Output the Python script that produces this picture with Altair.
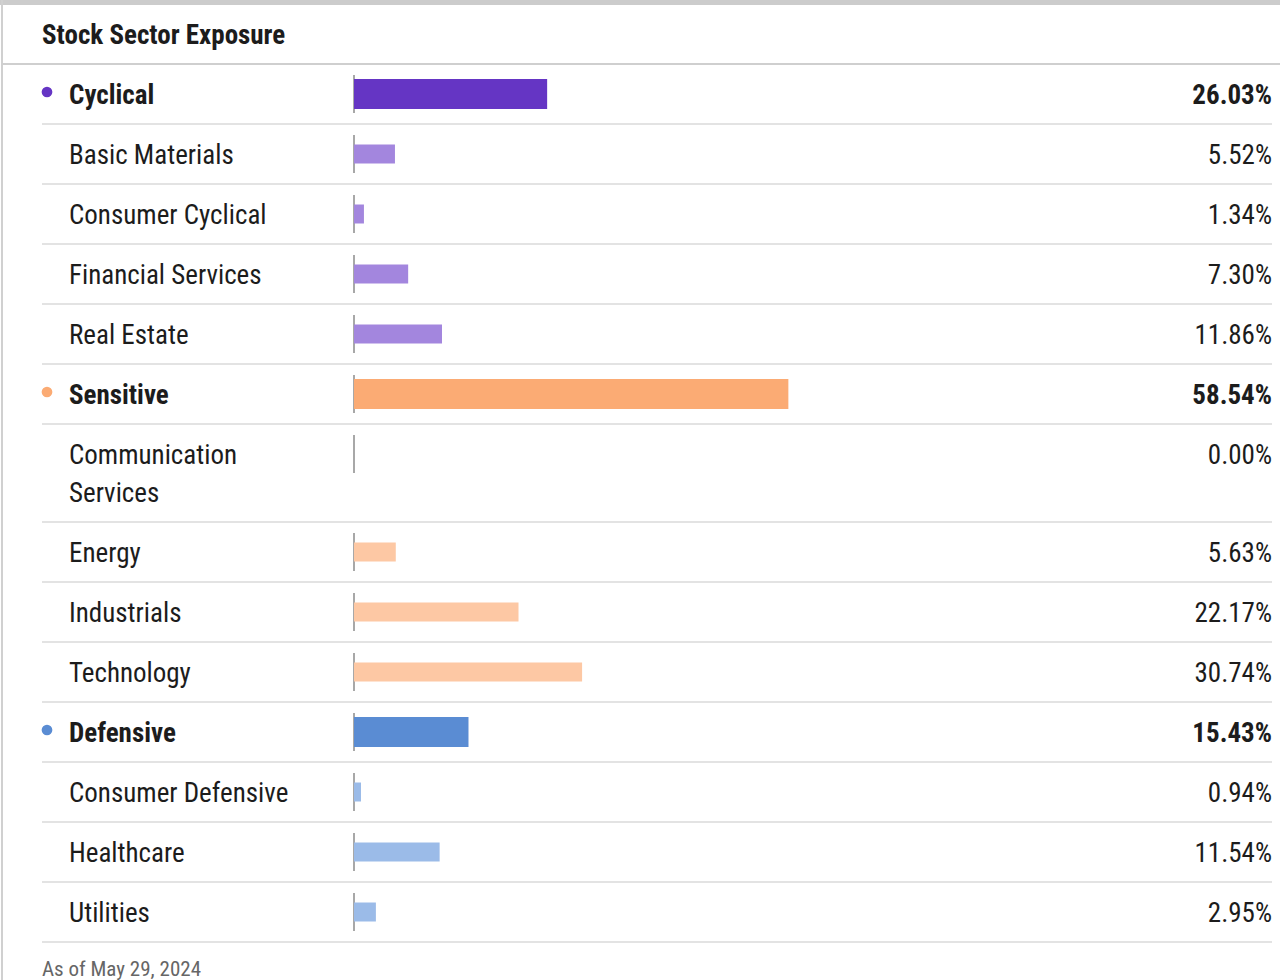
import altair as alt
import pandas as pd

# ---- data ----
sectors = ["Cyclical", "Basic Materials", "Consumer Cyclical", "Financial Services", "Real Estate",
           "Sensitive", "Communication Services", "Energy", "Industrials", "Technology",
           "Defensive", "Consumer Defensive", "Healthcare", "Utilities"]
exposure = [26.03, 5.52, 1.34, 7.30, 11.86,
            58.54, 0.00, 5.63, 22.17, 30.74,
            15.43, 0.94, 11.54, 2.95]
groups = ["Cyclical"] * 5 + ["Sensitive"] * 5 + ["Defensive"] * 4
title_text = "Stock Sector Exposure"
footer_text = "As of May 29, 2024"

color_keys = ["Cyclical-main", "Cyclical-sub", "Sensitive-main", "Sensitive-sub",
              "Defensive-main", "Defensive-sub"]
color_vals = ["#6535c4", "#a386de", "#fbab74", "#fdc8a4", "#5a8cd3", "#9bbbe8"]

# ---- layout ----
W, H = 1280, 980
HEADER_BOTTOM = 64
ROW_H = 60
LINE_EXTRA = 38
WRAP_AT = 20
FONT = "Roboto Condensed, Roboto"
FS = 27
TXT = "#1c1c1c"
DY = 10


def wrap(name):
    if len(name) > WRAP_AT:
        return name.split(" ")
    return name


rows = []
top = HEADER_BOTTOM
for name, val, grp in zip(sectors, exposure, groups):
    lab = wrap(name)
    nlines = len(lab) if isinstance(lab, list) else 1
    h = ROW_H + LINE_EXTRA * (nlines - 1)
    main = name == grp
    rows.append({
        "name": name, "label": lab, "value": val, "group": grp,
        "main": main, "ckey": grp + ("-main" if main else "-sub"),
        "vtxt": f"{val:.2f}%",
        "cy": top + ROW_H / 2, "ztop": top + ROW_H / 2 - 19, "zbot": top + ROW_H / 2 + 19,
        "bottom": top + h,
    })
    top += h
df = pd.DataFrame(rows)
main_df = df[df["main"]]
sub_df = df[~df["main"]]
one = pd.DataFrame({"k": [0]})

yscale = alt.Scale(domain=[0, H], reverse=True, nice=False, zero=False, padding=0)
xscale = alt.Scale(domain=[0, 100], range=[354, 1096], nice=False, padding=0)
cscale = alt.Scale(domain=color_keys, range=color_vals)

top_bar = alt.Chart(one).mark_rect(color="#cccccc").encode(
    x=alt.value(0), x2=alt.value(W), y=alt.value(0), y2=alt.value(5))
left_border = alt.Chart(one).mark_rule(color="#d0d0d0", strokeWidth=2).encode(
    x=alt.value(2), y=alt.value(0), y2=alt.value(H))
header_line = alt.Chart(one).mark_rule(color="#cfcfcf", strokeWidth=2).encode(
    x=alt.value(2), x2=alt.value(W), y=alt.value(HEADER_BOTTOM))
title = alt.Chart(one).mark_text(text=title_text, font=FONT, fontSize=FS, fontWeight="bold",
                                 align="left", baseline="alphabetic", color=TXT).encode(
    x=alt.value(42), y=alt.value(44))
footer = alt.Chart(one).mark_text(text=footer_text, font=FONT, fontSize=21,
                                  align="left", baseline="alphabetic", color="#666666").encode(
    x=alt.value(42), y=alt.value(976))

seps = alt.Chart(df).mark_rule(color="#e3e3e3", strokeWidth=2).encode(
    x=alt.value(42), x2=alt.value(1272),
    y=alt.Y("bottom:Q", scale=yscale, axis=None))

zero_lines = alt.Chart(df).mark_rule(color="#a8a8a8", strokeWidth=2).encode(
    x=alt.X("z:Q", scale=xscale, axis=None),
    y=alt.Y("ztop:Q", scale=yscale, axis=None), y2="zbot:Q"
).transform_calculate(z="0")

bars_main = alt.Chart(main_df).mark_bar(orient="horizontal", size=30).encode(
    x=alt.X("value:Q", scale=xscale, axis=None),
    x2=alt.X2("base:Q"),
    y=alt.Y("cy:Q", scale=yscale, axis=None),
    color=alt.Color("ckey:N", scale=cscale, legend=None)
).transform_calculate(base="0")
bars_sub = alt.Chart(sub_df).mark_bar(orient="horizontal", size=19).encode(
    x=alt.X("value:Q", scale=xscale, axis=None),
    x2=alt.X2("base:Q"),
    y=alt.Y("cy:Q", scale=yscale, axis=None),
    color=alt.Color("ckey:N", scale=cscale, legend=None)
).transform_calculate(base="0")

dots = alt.Chart(main_df).mark_circle(size=115, opacity=1).encode(
    x=alt.value(47),
    y=alt.Y("cy:Q", scale=yscale, axis=None),
    yOffset=alt.value(-2),
    color=alt.Color("ckey:N", scale=cscale, legend=None))

lab_main = alt.Chart(main_df).mark_text(font=FONT, fontSize=FS, fontWeight="bold", align="left",
                                        baseline="alphabetic", dy=DY, color=TXT, lineHeight=38).encode(
    x=alt.value(69), y=alt.Y("cy:Q", scale=yscale, axis=None), text="label")
lab_sub = alt.Chart(sub_df).mark_text(font=FONT, fontSize=FS, align="left",
                                      baseline="alphabetic", dy=DY, color=TXT, lineHeight=38).encode(
    x=alt.value(69), y=alt.Y("cy:Q", scale=yscale, axis=None), text="label")
val_main = alt.Chart(main_df).mark_text(font=FONT, fontSize=FS, fontWeight="bold", align="right",
                                        baseline="alphabetic", dy=DY, color=TXT).encode(
    x=alt.value(1272), y=alt.Y("cy:Q", scale=yscale, axis=None), text="vtxt:N")
val_sub = alt.Chart(sub_df).mark_text(font=FONT, fontSize=FS, align="right",
                                      baseline="alphabetic", dy=DY, color=TXT).encode(
    x=alt.value(1272), y=alt.Y("cy:Q", scale=yscale, axis=None), text="vtxt:N")

chart = alt.layer(
    top_bar, left_border, header_line, title, seps, zero_lines, bars_main, bars_sub,
    dots, lab_main, lab_sub, val_main, val_sub, footer
).properties(width=W, height=H, padding=0, autosize="none", background="#ffffff"
).configure_view(stroke=None)

chart.save("out.html", embed_options={"renderer": "svg", "actions": False})
